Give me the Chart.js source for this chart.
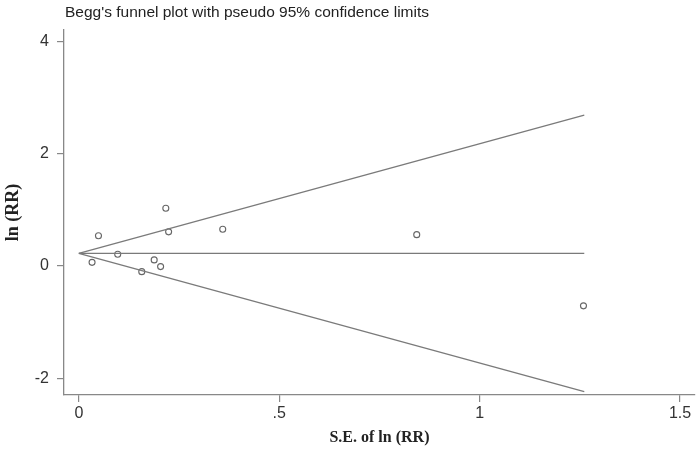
<!DOCTYPE html>
<html>
<head>
<meta charset="utf-8">
<script src="https://cdn.jsdelivr.net/npm/chart.js@4"></script>
<style>
html,body{margin:0;padding:0;background:#fff;}
#wrap{width:700px;height:451px;position:relative;}
</style>
</head>
<body>
<div id="wrap"><canvas id="c"></canvas></div>
<script>
// Study estimates
const seLnRR = [0.033, 0.049, 0.097, 0.157, 0.188, 0.204, 0.217, 0.224, 0.359, 0.843, 1.259];
const lnRR   = [0.066, 0.54, 0.21, -0.10, 0.11, -0.01, 1.03, 0.61, 0.655, 0.56, -0.71];

// Pseudo 95% confidence limits (endpoints)
const funnelSE    = [0, 1.261];
const pooledLine  = [0.227, 0.227];
const upperLimit  = [0.227, 2.69];
const lowerLimit  = [0.227, -2.24];

// Tick labels
const xTicks = [0, 0.5, 1, 1.5];
const xTickLabels = ['0', '.5', '1', '1.5'];
const yTicks = [-2, 0, 2, 4];
const yTickLabels = ['-2', '0', '2', '4'];

const titleText = "Begg's funnel plot with pseudo 95% confidence limits";

const lineColor = '#7a7a7a';
const pts = (xs, ys) => xs.map((x, i) => ({x: x, y: ys[i]}));
const lineDs = (ys) => ({
  type: 'line', data: pts(funnelSE, ys), borderColor: lineColor, borderWidth: 1.3,
  pointRadius: 0, fill: false, tension: 0
});

const titlePlugin = {
  id: 'topTitle',
  afterDraw(chart) {
    const ctx = chart.ctx;
    ctx.save();
    ctx.font = '15.5px "Liberation Sans", Arial, sans-serif';
    ctx.fillStyle = '#222';
    ctx.textBaseline = 'middle';
    ctx.textAlign = 'left';
    ctx.fillText(titleText, 65, 13);
    ctx.restore();
  }
};

new Chart(document.getElementById('c'), {
  type: 'scatter',
  data: {
    datasets: [
      lineDs(upperLimit),
      lineDs(pooledLine),
      lineDs(lowerLimit),
      {
        type: 'scatter',
        data: pts(seLnRR, lnRR),
        pointStyle: 'circle',
        pointRadius: 3,
        borderColor: '#666',
        backgroundColor: 'rgba(255,255,255,0)',
        borderWidth: 1.1
      }
    ]
  },
  options: {
    responsive: true,
    maintainAspectRatio: false,
    animation: false,
    layout: { padding: { top: 30, right: 3, left: 0, bottom: 0 } },
    plugins: { legend: { display: false }, tooltip: { enabled: false }, title: { display: false } },
    scales: {
      x: {
        type: 'linear',
        min: -0.037,
        max: 1.537,
        afterFit(s) { s.height = 56; },
        afterBuildTicks(s) { s.ticks = xTicks.map(v => ({value: v})); },
        border: { display: true, color: '#888', width: 1.3 },
        grid: { display: true, drawOnChartArea: false, drawTicks: true, tickLength: 7, color: '#888', lineWidth: 1.2 },
        ticks: {
          padding: 2,
          color: '#333',
          font: { family: '"Liberation Sans", Arial, sans-serif', size: 16 },
          maxRotation: 0,
          callback: (v) => { const i = xTicks.indexOf(v); return i >= 0 ? xTickLabels[i] : ''; }
        },
        title: {
          display: true,
          text: 'S.E. of ln (RR)',
          color: '#222',
          font: { family: '"Liberation Serif", "Times New Roman", serif', size: 16, weight: 'bold' },
          padding: { top: 0, bottom: 4 }
        }
      },
      y: {
        type: 'linear',
        min: -2.30,
        max: 4.21,
        afterFit(s) { s.width = 64; },
        afterBuildTicks(s) { s.ticks = yTicks.map(v => ({value: v})); },
        border: { display: true, color: '#888', width: 1.3 },
        grid: { display: true, drawOnChartArea: false, drawTicks: true, tickLength: 7, color: '#888', lineWidth: 1.2 },
        ticks: {
          padding: 8,
          color: '#333',
          font: { family: '"Liberation Sans", Arial, sans-serif', size: 16 },
          callback: (v) => { const i = yTicks.indexOf(v); return i >= 0 ? yTickLabels[i] : ''; }
        },
        title: {
          display: true,
          text: 'ln (RR)',
          color: '#222',
          font: { family: '"Liberation Serif", "Times New Roman", serif', size: 18, weight: 'bold' },
          padding: { top: 3, bottom: 0 }
        }
      }
    }
  },
  plugins: [titlePlugin]
});
</script>
</body>
</html>
